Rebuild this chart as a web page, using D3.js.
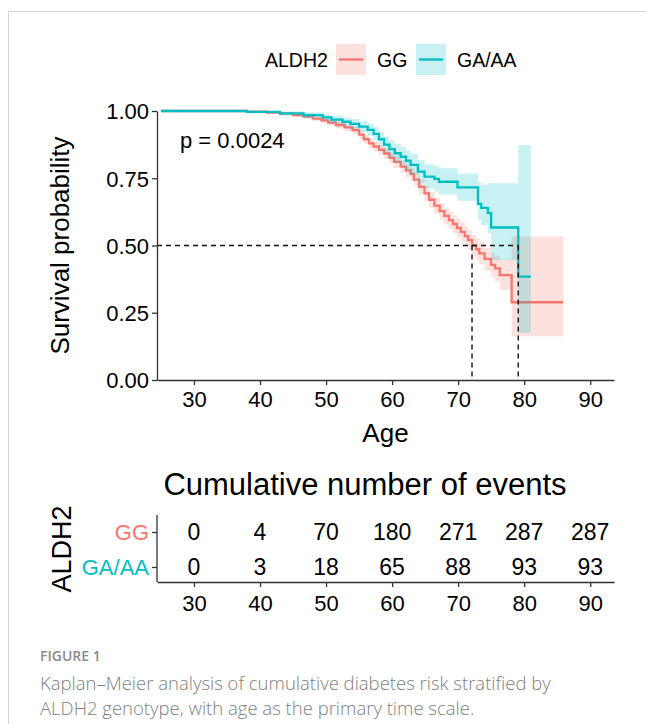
<!DOCTYPE html>
<html>
<head>
<meta charset="utf-8">
<script src="https://cdn.jsdelivr.net/npm/d3@7"></script>
<style>
	body { margin: 0; background: #fff; }
	svg text { font-family: "Liberation Sans", Arial, sans-serif; }
	svg .caption { font-family: "Open Sans", "Noto Sans", sans-serif; }
</style>
</head>
<body>
<svg id="chart" width="646" height="724"></svg>
<script>
// Data.
var groups = [ 'GG', 'GA/AA' ];
var groupColors = [ '#F8766D', '#00BFC4' ];
var ageTicks = [ 30, 40, 50, 60, 70, 80, 90 ];
var survTicks = [ 0, 0.25, 0.5, 0.75, 1 ];

// GG step curve: event ages, survival, lower and upper CI.
var ggTime = [ 25, 38.0, 41.0, 43.0, 45.0, 46.6, 48.0, 49.3, 50.3, 51.5, 52.8, 54.0, 55.0, 55.7, 56.5, 57.2, 58.0, 58.8, 59.6, 60.3, 61.3, 62.1, 62.8, 63.3, 64.1, 64.9, 65.6, 66.4, 67.2, 67.9, 68.6, 69.2, 69.8, 70.4, 71.0, 71.5, 72.1, 72.7, 73.2, 74.0, 75.0, 75.6, 76.3, 78.1, 85.9 ];
var ggSurv = [ 1, 0.998, 0.994, 0.990, 0.985, 0.979, 0.972, 0.965, 0.957, 0.948, 0.939, 0.929, 0.912, 0.895, 0.880, 0.868, 0.856, 0.842, 0.826, 0.811, 0.793, 0.779, 0.766, 0.745, 0.718, 0.694, 0.670, 0.648, 0.628, 0.610, 0.594, 0.580, 0.565, 0.551, 0.535, 0.520, 0.500, 0.486, 0.471, 0.450, 0.428, 0.415, 0.390, 0.289, 0.289 ];
var ggLower = [ 1, 0.995, 0.989, 0.984, 0.978, 0.971, 0.963, 0.955, 0.946, 0.936, 0.926, 0.915, 0.897, 0.879, 0.863, 0.850, 0.837, 0.822, 0.805, 0.789, 0.770, 0.755, 0.741, 0.719, 0.691, 0.666, 0.641, 0.618, 0.597, 0.578, 0.561, 0.546, 0.530, 0.515, 0.498, 0.482, 0.461, 0.446, 0.430, 0.407, 0.383, 0.367, 0.335, 0.163, 0.163 ];
var ggUpper = [ 1, 1, 0.998, 0.995, 0.991, 0.986, 0.980, 0.974, 0.967, 0.959, 0.951, 0.942, 0.926, 0.910, 0.896, 0.885, 0.874, 0.861, 0.846, 0.832, 0.815, 0.802, 0.790, 0.770, 0.744, 0.721, 0.698, 0.677, 0.658, 0.641, 0.626, 0.613, 0.599, 0.586, 0.571, 0.557, 0.538, 0.525, 0.511, 0.492, 0.472, 0.462, 0.448, 0.533, 0.533 ];

// GA/AA step curve.
var gaTime = [ 25, 38.0, 43.0, 46.6, 49.5, 50.8, 52.5, 53.7, 55.0, 56.3, 57.2, 58.0, 58.8, 59.6, 60.4, 61.3, 62.1, 62.8, 63.9, 64.9, 66.4, 67.1, 69.9, 73.0, 73.5, 74.5, 75.0, 79.1, 81.0 ];
var gaSurv = [ 1, 0.997, 0.991, 0.985, 0.976, 0.968, 0.960, 0.952, 0.942, 0.930, 0.915, 0.895, 0.875, 0.858, 0.843, 0.830, 0.815, 0.800, 0.775, 0.756, 0.748, 0.737, 0.716, 0.655, 0.640, 0.620, 0.567, 0.384, 0.384 ];
var gaLower = [ 1, 0.992, 0.983, 0.975, 0.963, 0.953, 0.943, 0.933, 0.921, 0.907, 0.890, 0.867, 0.845, 0.826, 0.809, 0.795, 0.778, 0.762, 0.733, 0.712, 0.702, 0.690, 0.666, 0.597, 0.575, 0.545, 0.446, 0.175, 0.175 ];
var gaUpper = [ 1, 1, 0.998, 0.995, 0.988, 0.982, 0.976, 0.970, 0.962, 0.953, 0.940, 0.923, 0.905, 0.890, 0.877, 0.866, 0.853, 0.840, 0.818, 0.802, 0.795, 0.787, 0.768, 0.735, 0.725, 0.731, 0.731, 0.873, 0.873 ];

// Median survival ages.
var medians = [ 72.1, 79.1 ];
var pLabel = 'p = 0.0024';

// Cumulative number of events at each age tick.
var ggEvents = [ 0, 4, 70, 180, 271, 287, 287 ];
var gaEvents = [ 0, 3, 18, 65, 88, 93, 93 ];

var captionLines = [
	'Kaplan\u2013Meier analysis of cumulative diabetes risk stratified by',
	'ALDH2 genotype, with age as the primary time scale.'
];

( function () {

	var svg = d3.select( '#chart' );

	// Light frame round the figure.
	svg.append( 'path' )
		.attr( 'd', 'M8.5,724 V11.5 H646' )
		.attr( 'fill', 'none' )
		.attr( 'stroke', '#d4d4d4' );

	var x = d3.scaleLinear().domain( [ 24.4, 93.6 ] ).range( [ 157, 614 ] );
	var y = d3.scaleLinear().domain( [ 0, 1 ] ).range( [ 380, 111 ] );

	var toRows = function ( t, s, lo, hi ) {
		return t.map( function ( d, i ) { return { t: d, s: s[i], lo: lo[i], hi: hi[i] }; } );
	};
	var curves = [
		toRows( ggTime, ggSurv, ggLower, ggUpper ),
		toRows( gaTime, gaSurv, gaLower, gaUpper )
	];

	var band = d3.area()
		.curve( d3.curveStepAfter )
		.x( function ( d ) { return x( d.t ); } )
		.y0( function ( d ) { return y( d.lo ); } )
		.y1( function ( d ) { return y( d.hi ); } );

	var line = d3.line()
		.curve( d3.curveStepAfter )
		.x( function ( d ) { return x( d.t ); } )
		.y( function ( d ) { return y( d.s ); } );

	// Band then line for each group; teal sits on top of red.
	curves.forEach( function ( rows, i ) {
		svg.append( 'path' )
			.datum( rows )
			.attr( 'd', band )
			.attr( 'fill', groupColors[i] )
			.attr( 'fill-opacity', 0.22 );
		svg.append( 'path' )
			.datum( rows )
			.attr( 'd', line )
			.attr( 'fill', 'none' )
			.attr( 'stroke', groupColors[i] )
			.attr( 'stroke-width', 2.3 );
	} );

	// Median lines.
	var dash = svg.append( 'g' )
		.attr( 'fill', 'none' )
		.attr( 'stroke', '#111' )
		.attr( 'stroke-width', 1.4 )
		.attr( 'stroke-dasharray', '5,4' );
	dash.append( 'line' )
		.attr( 'x1', x( 24.4 ) ).attr( 'x2', x( d3.max( medians ) ) )
		.attr( 'y1', y( 0.5 ) ).attr( 'y2', y( 0.5 ) );
	medians.forEach( function ( m ) {
		dash.append( 'line' )
			.attr( 'x1', x( m ) ).attr( 'x2', x( m ) )
			.attr( 'y1', y( 0.5 ) ).attr( 'y2', y( 0 ) );
	} );

	// Axes.
	var styleAxis = function ( g, size ) {
		g.selectAll( '.domain' ).attr( 'stroke', '#333' ).attr( 'stroke-width', 1.3 );
		g.selectAll( '.tick line' ).attr( 'stroke', '#333' ).attr( 'stroke-width', 1.3 );
		g.selectAll( '.tick text' )
			.attr( 'font-family', '"Liberation Sans", Arial, sans-serif' )
			.attr( 'font-size', size )
			.attr( 'fill', '#000' );
	};

	var xAxis = svg.append( 'g' )
		.attr( 'transform', 'translate( 0, ' + y( 0 ) + ' )' )
		.call( d3.axisBottom( x ).tickValues( ageTicks ).tickSize( 5 ).tickSizeOuter( 0 ).tickPadding( 6 ) );
	styleAxis( xAxis, 22 );

	var yAxis = svg.append( 'g' )
		.attr( 'transform', 'translate( ' + x( 24.4 ) + ', 0 )' )
		.call( d3.axisLeft( y ).tickValues( survTicks ).tickFormat( d3.format( '.2f' ) ).tickSize( 5 ).tickSizeOuter( 0 ).tickPadding( 3 ) );
	styleAxis( yAxis, 22 );
	yAxis.selectAll( '.tick text' ).attr( 'dy', '0.36em' );

	svg.append( 'text' )
		.attr( 'x', ( x( 24.4 ) + x( 93.6 ) ) / 2 )
		.attr( 'y', 442 )
		.attr( 'text-anchor', 'middle' )
		.attr( 'font-size', 26 )
		.text( 'Age' );

	svg.append( 'text' )
		.attr( 'transform', 'translate( 69, ' + y( 0.5 ) + ' ) rotate( -90 )' )
		.attr( 'text-anchor', 'middle' )
		.attr( 'font-size', 26 )
		.text( 'Survival probability' );

	svg.append( 'text' )
		.attr( 'x', 180 )
		.attr( 'y', 148 )
		.attr( 'font-size', 22 )
		.text( pLabel );

	// Legend.
	var legend = svg.append( 'g' );
	legend.append( 'text' )
		.attr( 'x', 265 ).attr( 'y', 67 )
		.attr( 'font-size', 19.5 )
		.text( 'ALDH2' );
	var keyX = [ 336, 416 ];
	var labelX = [ 377, 457 ];
	groups.forEach( function ( g, i ) {
		legend.append( 'rect' )
			.attr( 'x', keyX[i] ).attr( 'y', 44 )
			.attr( 'width', 30 ).attr( 'height', 31 )
			.attr( 'fill', groupColors[i] ).attr( 'fill-opacity', 0.22 );
		legend.append( 'line' )
			.attr( 'x1', keyX[i] + 3 ).attr( 'x2', keyX[i] + 27 )
			.attr( 'y1', 59.5 ).attr( 'y2', 59.5 )
			.attr( 'stroke', groupColors[i] ).attr( 'stroke-width', 2.3 );
		legend.append( 'text' )
			.attr( 'x', labelX[i] ).attr( 'y', 67 )
			.attr( 'font-size', 19.5 )
			.text( g );
	} );

	// Risk table: cumulative number of events.
	svg.append( 'text' )
		.attr( 'x', 365 ).attr( 'y', 495 )
		.attr( 'text-anchor', 'middle' )
		.attr( 'font-size', 31 )
		.text( 'Cumulative number of events' );

	var row = d3.scalePoint().domain( groups ).range( [ 532, 567 ] );
	var tableBottom = 582;

	var tY = svg.append( 'g' )
		.attr( 'transform', 'translate( ' + x( 24.4 ) + ', 0 )' )
		.call( d3.axisLeft( row ).tickSize( 5 ).tickSizeOuter( 0 ).tickPadding( 3 ) );
	tY.select( '.domain' ).attr( 'd', 'M0,' + 515 + 'V' + tableBottom );
	styleAxis( tY, 22 );
	tY.selectAll( '.tick text' ).attr( 'fill', function ( d, i ) { return groupColors[i]; } );

	var tX = svg.append( 'g' )
		.attr( 'transform', 'translate( 0, ' + tableBottom + ' )' )
		.call( d3.axisBottom( x ).tickValues( ageTicks ).tickSize( 5 ).tickSizeOuter( 0 ).tickPadding( 8 ) );
	styleAxis( tX, 22 );

	[ ggEvents, gaEvents ].forEach( function ( counts, i ) {
		svg.append( 'g' ).selectAll( 'text' )
			.data( counts )
			.enter()
			.append( 'text' )
			.attr( 'x', function ( d, j ) { return x( ageTicks[j] ); } )
			.attr( 'y', row( groups[i] ) )
			.attr( 'dy', '0.36em' )
			.attr( 'text-anchor', 'middle' )
			.attr( 'font-size', 23 )
			.text( function ( d ) { return d; } );
	} );

	svg.append( 'text' )
		.attr( 'transform', 'translate( 71, 549 ) rotate( -90 )' )
		.attr( 'text-anchor', 'middle' )
		.attr( 'font-size', 27 )
		.text( 'ALDH2' );

	// Caption.
	svg.append( 'text' )
		.attr( 'class', 'caption' )
		.attr( 'x', 40 ).attr( 'y', 661 )
		.attr( 'font-size', 14 )
		.attr( 'font-weight', 600 )
		.attr( 'fill', '#8a8a8a' )
		.text( 'FIGURE 1' );
	svg.selectAll( '.capline' )
		.data( captionLines )
		.enter()
		.append( 'text' )
		.attr( 'class', 'caption capline' )
		.attr( 'x', 40 )
		.attr( 'y', function ( d, i ) { return 690 + i * 25; } )
		.attr( 'font-size', 18.5 )
		.attr( 'font-weight', 300 )
		.attr( 'fill', '#808080' )
		.text( function ( d ) { return d; } );

} )();
</script>
</body>
</html>
